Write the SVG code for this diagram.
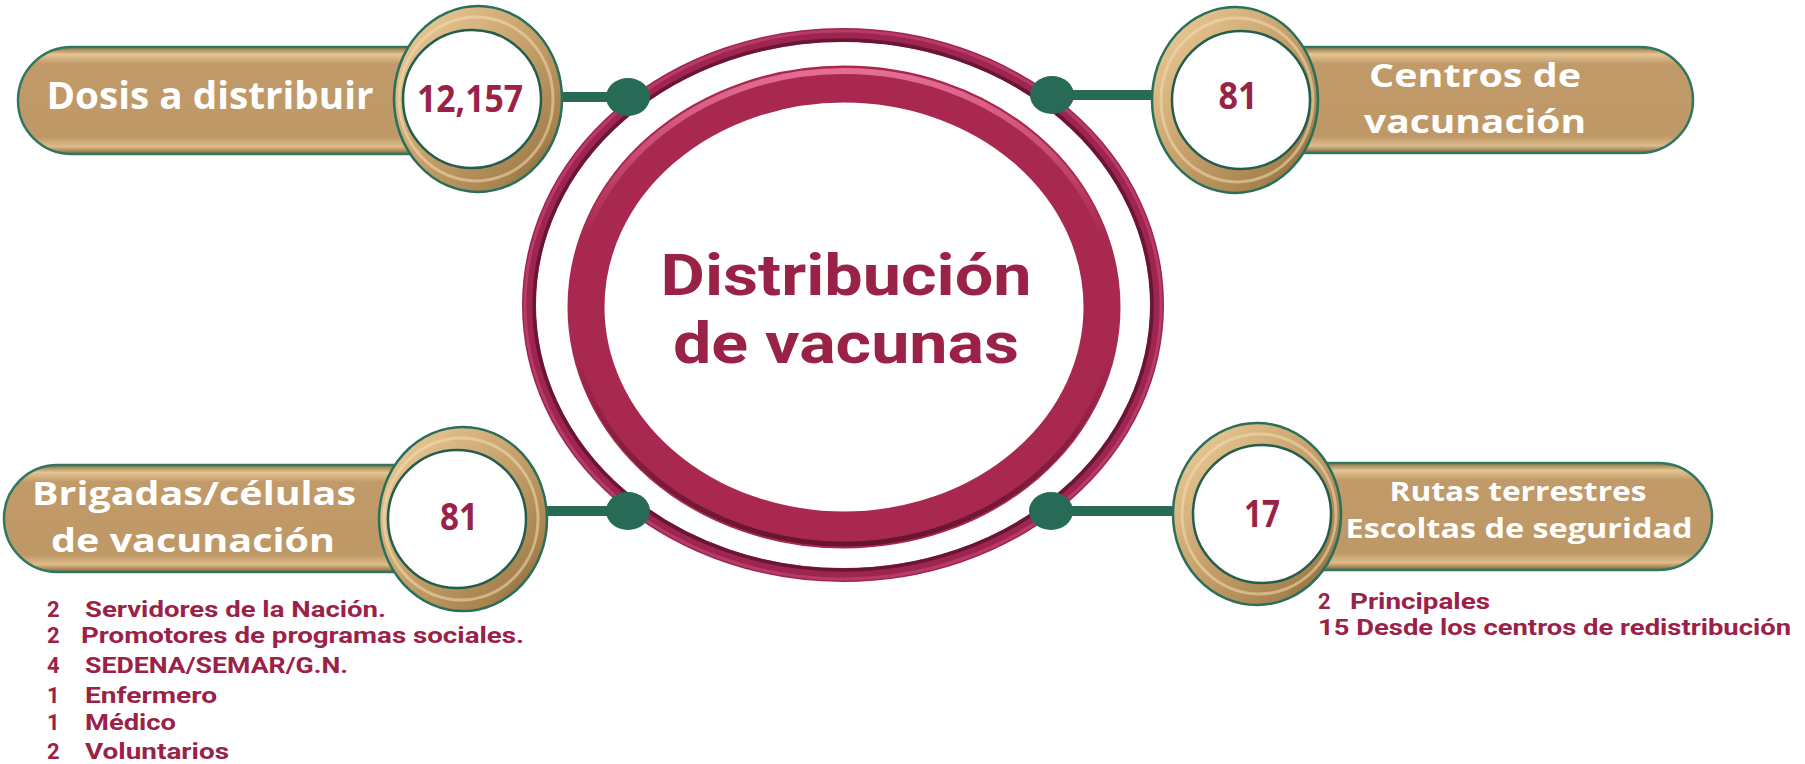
<svg xmlns="http://www.w3.org/2000/svg" width="1805" height="764" viewBox="0 0 1805 764">
  <defs>
    <linearGradient id="pillGrad" x1="0" y1="0" x2="0" y2="1">
      <stop offset="0" stop-color="#8F6E40"/>
      <stop offset="0.07" stop-color="#E4C593"/>
      <stop offset="0.16" stop-color="#C09A68"/>
      <stop offset="0.84" stop-color="#BE9866"/>
      <stop offset="0.93" stop-color="#DDBC8A"/>
      <stop offset="1" stop-color="#85653A"/>
    </linearGradient>
    <linearGradient id="ringGold" x1="0" y1="0" x2="1" y2="1">
      <stop offset="0" stop-color="#F0D29F"/>
      <stop offset="0.45" stop-color="#C9A46F"/>
      <stop offset="0.8" stop-color="#A7834F"/>
      <stop offset="1" stop-color="#6E5029"/>
    </linearGradient>
    <linearGradient id="thickHi" x1="0" y1="0" x2="0" y2="1">
      <stop offset="0" stop-color="#F07AA0" stop-opacity="0.85"/>
      <stop offset="0.35" stop-color="#F07AA0" stop-opacity="0"/>
      <stop offset="1" stop-color="#F07AA0" stop-opacity="0"/>
    </linearGradient>
    <linearGradient id="thickSh" x1="0" y1="0" x2="0" y2="1">
      <stop offset="0" stop-color="#4A0C24" stop-opacity="0"/>
      <stop offset="0.6" stop-color="#4A0C24" stop-opacity="0"/>
      <stop offset="1" stop-color="#4A0C24" stop-opacity="0.7"/>
    </linearGradient>
    <style>
      .pill { fill: url(#pillGrad); stroke: #2F7762; stroke-width: 2.5; }
      .ringO { fill: url(#ringGold); stroke: #2A6F5A; stroke-width: 2.5; }
      .ringHi { fill: none; stroke: #F6DDB0; stroke-width: 3; opacity: 0.55; }
      .ringI { fill: #FFFFFF; stroke: #235E4C; stroke-width: 2.5; }
      .lbl { font-family: "Open Sans", "Liberation Sans", sans-serif; font-weight: 700; fill: #FFFFFF; text-anchor: middle; }
      .num { font-family: "Open Sans", "Liberation Sans", sans-serif; font-weight: 700; fill: #9B2247; text-anchor: middle; font-size: 38px; }
      .lst { font-family: Roboto, "Liberation Sans", sans-serif; font-weight: 700; fill: #9B2247; font-size: 22px; }
      .title { font-family: Roboto, "Liberation Sans", sans-serif; font-weight: 700; fill: #9B2247; text-anchor: middle; font-size: 57px; }
      .conn { stroke: #276B57; stroke-width: 10; fill: none; }
      .dot { fill: #276B57; }
    </style>
  </defs>

  <rect width="1805" height="764" fill="#FFFFFF"/>

  <g id="center">
    <ellipse cx="843" cy="305" rx="314" ry="270" fill="none" stroke="#9E2550" stroke-width="14"/>
    <ellipse cx="843" cy="305" rx="318" ry="274" fill="none" stroke="#C8497A" stroke-width="3" opacity="0.6"/>
    <ellipse cx="843" cy="305" rx="309" ry="265" fill="none" stroke="#5A1230" stroke-width="3.5" opacity="0.8"/>
    <ellipse cx="844" cy="307" rx="258" ry="223" fill="none" stroke="#A8284F" stroke-width="37"/>
    <ellipse cx="844" cy="307" rx="272" ry="236" fill="none" stroke="url(#thickHi)" stroke-width="6"/>
    <ellipse cx="844" cy="307" rx="273" ry="237" fill="none" stroke="url(#thickSh)" stroke-width="5"/>
    <text class="title" x="846" y="295" textLength="371" lengthAdjust="spacingAndGlyphs">Distribución</text>
    <text class="title" x="846" y="363" textLength="346" lengthAdjust="spacingAndGlyphs">de vacunas</text>
  </g>

  <g id="connectors">
    <line class="conn" x1="555" y1="97" x2="628" y2="97"/>
    <ellipse class="dot" cx="628" cy="97" rx="22" ry="19"/>
    <line class="conn" x1="1052" y1="95" x2="1158" y2="95"/>
    <ellipse class="dot" cx="1052" cy="95" rx="22" ry="19"/>
    <line class="conn" x1="540" y1="511" x2="628" y2="511"/>
    <ellipse class="dot" cx="628" cy="511" rx="22" ry="19"/>
    <line class="conn" x1="1051" y1="511" x2="1180" y2="511"/>
    <ellipse class="dot" cx="1051" cy="511" rx="22" ry="19"/>
  </g>

  <g id="node-dosis">
    <rect class="pill" x="18" y="47" width="462" height="107" rx="53.5"/>
    <ellipse class="ringO" cx="478" cy="99" rx="84" ry="93"/>
    <ellipse class="ringHi" cx="476" cy="99" rx="77" ry="82"/>
    <ellipse class="ringI" cx="472" cy="99" rx="69" ry="69"/>
    <text class="lbl" x="210" y="109" font-size="38" textLength="327" lengthAdjust="spacingAndGlyphs">Dosis a distribuir</text>
    <text class="num" x="470" y="112" textLength="106" lengthAdjust="spacingAndGlyphs">12,157</text>
  </g>

  <g id="node-centros">
    <rect class="pill" x="1235" y="47" width="458" height="106" rx="53"/>
    <ellipse class="ringO" cx="1235" cy="100" rx="83" ry="93"/>
    <ellipse class="ringHi" cx="1237" cy="100" rx="76" ry="82"/>
    <ellipse class="ringI" cx="1241" cy="100" rx="69" ry="69"/>
    <text class="lbl" x="1475" y="87" font-size="33" textLength="212" lengthAdjust="spacingAndGlyphs">Centros de</text>
    <text class="lbl" x="1475" y="133" font-size="33" textLength="222" lengthAdjust="spacingAndGlyphs">vacunación</text>
    <text class="num" x="1238" y="109" textLength="39" lengthAdjust="spacingAndGlyphs">81</text>
  </g>

  <g id="node-brigadas">
    <rect class="pill" x="4" y="465" width="459" height="107" rx="53.5"/>
    <ellipse class="ringO" cx="463" cy="519" rx="84" ry="92"/>
    <ellipse class="ringHi" cx="461" cy="519" rx="77" ry="81"/>
    <ellipse class="ringI" cx="457" cy="519" rx="69" ry="69"/>
    <text class="lbl" x="194" y="505" font-size="33" textLength="324" lengthAdjust="spacingAndGlyphs">Brigadas/células</text>
    <text class="lbl" x="193" y="552" font-size="33" textLength="284" lengthAdjust="spacingAndGlyphs">de vacunación</text>
    <text class="num" x="459" y="530" textLength="38" lengthAdjust="spacingAndGlyphs">81</text>
  </g>

  <g id="node-rutas">
    <rect class="pill" x="1257" y="463" width="455" height="107" rx="53.5"/>
    <ellipse class="ringO" cx="1257" cy="514" rx="84" ry="91"/>
    <ellipse class="ringHi" cx="1259" cy="514" rx="77" ry="80"/>
    <ellipse class="ringI" cx="1262" cy="514" rx="69" ry="69"/>
    <text class="lbl" x="1518" y="501" font-size="26" textLength="257" lengthAdjust="spacingAndGlyphs">Rutas terrestres</text>
    <text class="lbl" x="1519" y="538" font-size="26" textLength="347" lengthAdjust="spacingAndGlyphs">Escoltas de seguridad</text>
    <text class="num" x="1262" y="527" textLength="36" lengthAdjust="spacingAndGlyphs">17</text>
  </g>

  <g id="list-brigadas">
    <text class="lst" x="47" y="617">2</text>
    <text class="lst" x="85" y="617" textLength="301" lengthAdjust="spacingAndGlyphs">Servidores de la Nación.</text>
    <text class="lst" x="47" y="643">2</text>
    <text class="lst" x="81" y="643" textLength="443" lengthAdjust="spacingAndGlyphs">Promotores de programas sociales.</text>
    <text class="lst" x="47" y="673">4</text>
    <text class="lst" x="85" y="673" textLength="263" lengthAdjust="spacingAndGlyphs">SEDENA/SEMAR/G.N.</text>
    <text class="lst" x="47" y="703">1</text>
    <text class="lst" x="85" y="703" textLength="132" lengthAdjust="spacingAndGlyphs">Enfermero</text>
    <text class="lst" x="47" y="730">1</text>
    <text class="lst" x="85" y="730" textLength="91" lengthAdjust="spacingAndGlyphs">Médico</text>
    <text class="lst" x="47" y="759">2</text>
    <text class="lst" x="85" y="759" textLength="144" lengthAdjust="spacingAndGlyphs">Voluntarios</text>
  </g>

  <g id="list-rutas">
    <text class="lst" x="1318" y="609">2</text>
    <text class="lst" x="1350" y="609" textLength="140" lengthAdjust="spacingAndGlyphs">Principales</text>
    <text class="lst" x="1318" y="635" textLength="473" lengthAdjust="spacingAndGlyphs">15 Desde los centros de redistribución</text>
  </g>
</svg>
